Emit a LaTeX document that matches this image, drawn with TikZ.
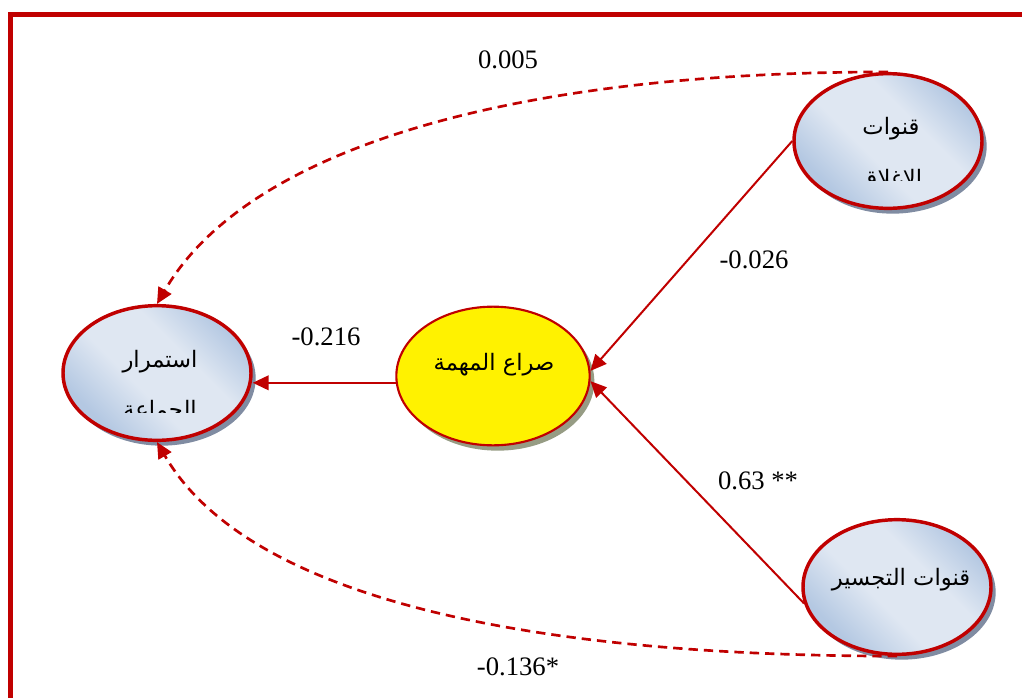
\documentclass[tikz,border=0pt]{standalone}
\usepackage{fontspec}
\setmainfont{Liberation Serif}
\newfontfamily\arabicfont[Script=Arabic]{DejaVu Sans}
\TeXXeTstate=1
\usetikzlibrary{shapes.geometric,arrows.meta,shadows}

\definecolor{pathred}{RGB}{192,0,0}
\definecolor{bluelight}{RGB}{223,231,242}
\definecolor{bluedark}{RGB}{180,200,226}
\definecolor{shadowblue}{RGB}{128,140,162}
\definecolor{shadowolive}{RGB}{150,156,132}
\pgfdeclarehorizontalshading{latentshade}{100bp}{color(0bp)=(bluedark); color(27bp)=(bluedark);
	color(43bp)=(bluelight); color(60bp)=(bluelight); color(75bp)=(bluedark); color(100bp)=(bluedark)}

\tikzset{
	latent/.style={ellipse, draw=pathred, line width=2.6pt, minimum width=141pt, minimum height=101pt,
		shading=latentshade, shading angle=45,
		drop shadow={shadow xshift=3.5pt, shadow yshift=-4pt, fill=shadowblue, opacity=1}},
	mediator/.style={ellipse, draw=pathred, line width=1.6pt, minimum width=145pt, minimum height=104pt,
		fill=yellow, drop shadow={shadow xshift=3.5pt, shadow yshift=-4pt, fill=shadowolive, opacity=1}},
	arlabel/.style={anchor=base, inner sep=0pt, font=\arabicfont\fontsize{17}{20}\selectfont},
	coef/.style={inner sep=0pt, font=\fontsize{20}{24}\selectfont},
	arr/.style={color=pathred, line width=1.5pt, -{Triangle[length=12pt,width=11pt]}},
	dasharr/.style={arr, line width=2pt, dash pattern=on 7pt off 4.5pt},
	frame/.style={draw=pathred, line width=3.75pt}
}

\begin{document}
\begin{tikzpicture}[x=0.75pt, y=-0.75pt]
	\useasboundingbox (0,0) rectangle (1022,697);
	\draw[frame] (10,14) rectangle (1040,720);

	% variables
	\node[latent]   (cont)     at (157,373) {};
	\node[mediator] (conflict) at (493,376) {};
	\node[latent]   (closure)  at (888,141) {};
	\node[latent]   (bridge)   at (897,587) {};

	\node[arlabel] (cont-a)     at (160,367) {\beginR استمرار\endR};
	\node[arlabel] (conflict-a) at (494,370) {\beginR صراع المهمة\endR};
	\node[arlabel] (closure-a)  at (891,134) {\beginR قنوات\endR};
	\node[arlabel] (bridge-a)   at (901,585) {\beginR قنوات التجسير\endR};
	\begin{scope}
		\clip (60,380) rectangle (255,412);
		\node[arlabel] (cont-b) at (160,417) {\beginR الجماعة\endR};
	\end{scope}
	\begin{scope}
		\clip (790,150) rectangle (985,180);
		\node[arlabel] (closure-b) at (891,186) {\beginR الإغلاق\endR};
	\end{scope}

	% paths
	\path[arr]
	(closure.west) edge (conflict.3)
	(bridge.190) edge (conflict.-3)
	(conflict.184) edge (conflict.184 -| cont.east);
	\draw[dasharr] (closure.north) .. controls +(-400,0) and +(85,-147) .. (cont.north);
	\draw[dasharr] (bridge.south) .. controls +(-400,0) and +(85,147) .. (cont.south);

	% coefficients
	\node[coef] (c-closure-cont) at (508,60)  {0.005};
	\node[coef] (c-conflict)     at (326,337) {-0.216};
	\node[coef] (c-closure)      at (754,260) {-0.026};
	\node[coef] (c-bridge)       at (758,481) {0.63 **};
	\node[coef] (c-bridge-cont)  at (518,667) {-0.136*};
\end{tikzpicture}
\end{document}
